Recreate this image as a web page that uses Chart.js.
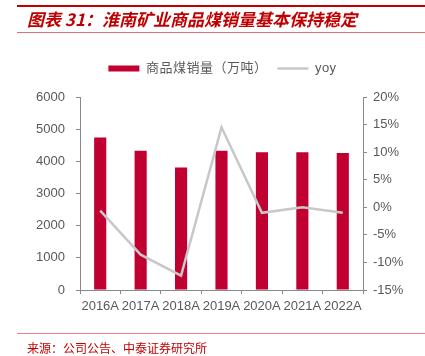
<!DOCTYPE html>
<html>
<head>
<meta charset="utf-8">
<script src="https://cdn.jsdelivr.net/npm/chart.js@4"></script>
<style>
  html,body{margin:0;padding:0;background:#fff;}
  #wrap{position:relative;width:425px;height:356px;overflow:hidden;}
  #c{position:absolute;left:0;top:0;}
  .topline{position:absolute;left:17px;right:0;top:5px;height:2px;background:#C00000;}
  .titleline{position:absolute;left:17px;right:0;top:32px;height:1px;background:#E07070;}
  .title{position:absolute;left:27px;top:9px;font-family:"Noto Sans CJK SC","Liberation Sans",sans-serif;font-weight:bold;font-style:italic;font-size:17px;color:#C00000;white-space:nowrap;line-height:20px;}
  .srcline{position:absolute;left:17px;right:0;top:333px;height:1px;background:#F08080;}
  .src{position:absolute;left:27px;top:340px;font-family:"Noto Sans CJK SC",sans-serif;font-size:12px;color:#C00000;white-space:nowrap;line-height:16px;}
</style>
</head>
<body>
<div id="wrap">
  <canvas id="c" width="425" height="356"></canvas>
  <div class="topline"></div>
  <div class="title">图表 31：淮南矿业商品煤销量基本保持稳定</div>
  <div class="titleline"></div>
  <div class="srcline"></div>
  <div class="src">来源：公司公告、中泰证券研究所</div>
</div>
<script>
const categories = ['2016A','2017A','2018A','2019A','2020A','2021A','2022A'];
const salesVolume = [4740, 4330, 3810, 4330, 4280, 4280, 4260];
const yoyPct = [-0.6, -8.6, -12.4, 14.5, -1.0, 0.0, -1.0];
const leftTicks = [0, 1000, 2000, 3000, 4000, 5000, 6000];
const rightTicks = [-15, -10, -5, 0, 5, 10, 15, 20];
const seriesNames = ['商品煤销量（万吨）', 'yoy'];

const textColor = '#595959';
const axisColor = '#898989';
const barColor = '#C00030';
const lineColor = '#C8C8C8';
const font = {family: '"Liberation Sans", Arial, sans-serif', size: 13};

const chart = new Chart(document.getElementById('c'), {
  data: {
    labels: categories,
    datasets: [
      {
        type: 'line',
        label: seriesNames[1],
        data: yoyPct,
        yAxisID: 'y2',
        borderColor: lineColor,
        backgroundColor: lineColor,
        borderWidth: 2.5,
        pointRadius: 0,
        tension: 0,
        order: 0
      },
      {
        type: 'bar',
        label: seriesNames[0],
        data: salesVolume,
        yAxisID: 'y',
        backgroundColor: barColor,
        borderWidth: 0,
        categoryPercentage: 0.3,
        barPercentage: 1,
        order: 1
      }
    ]
  },
  options: {
    responsive: false,
    animation: false,
    layout: {padding: {top: 52, left: 20, right: 0, bottom: 0}},
    plugins: {
      tooltip: {enabled: false},
      legend: {
        position: 'top',
        reverse: true,
        labels: {
          usePointStyle: true,
          pointStyleWidth: 31,
          boxHeight: 6,
          padding: 10,
          color: textColor,
          font: {family: '"Liberation Sans","Noto Sans CJK SC", sans-serif', size: 13},
          generateLabels(chart) {
            const items = Chart.defaults.plugins.legend.labels.generateLabels(chart);
            items.forEach(it => {
              if (it.text === seriesNames[1]) {
                it.pointStyle = 'line';
                it.lineWidth = 2.5;
                it.strokeStyle = lineColor;
              } else {
                it.pointStyle = 'rect';
                it.lineWidth = 0;
                it.fillStyle = barColor;
              }
            });
            return items;
          }
        }
      }
    },
    scales: {
      x: {
        offset: true,
        grid: {display: true, offset: true, drawOnChartArea: false, drawTicks: true, tickLength: 4, color: axisColor},
        border: {display: true, color: axisColor, width: 1},
        ticks: {color: textColor, font: font, padding: 5, maxRotation: 0, autoSkip: false},
        afterFit(s) { s.height = 66; }
      },
      y: {
        position: 'left',
        min: leftTicks[0],
        max: leftTicks[leftTicks.length - 1],
        afterBuildTicks(s) { s.ticks = leftTicks.map(v => ({value: v})); },
        grid: {display: true, drawOnChartArea: false, drawTicks: true, tickLength: 4, color: axisColor},
        border: {display: true, color: axisColor, width: 1},
        ticks: {color: textColor, font: font, padding: 11, callback: v => String(v)},
        afterFit(s) { s.width = 60; }
      },
      y2: {
        position: 'right',
        min: rightTicks[0],
        max: rightTicks[rightTicks.length - 1],
        afterBuildTicks(s) { s.ticks = rightTicks.map(v => ({value: v})); },
        grid: {display: true, drawOnChartArea: false, drawTicks: true, tickLength: 4, color: axisColor},
        border: {display: true, color: axisColor, width: 1},
        ticks: {color: textColor, font: font, padding: 6, callback: v => v + '%'},
        afterFit(s) { s.width = 62; }
      }
    }
  }
});

// widen the legend's box so the plot starts lower, and space the legend text slightly
const lg = chart.legend;
if (lg) {
  const origFit = lg.fit;
  const origDraw = lg.draw;
  lg.fit = function () {
    this.ctx.save();
    this.ctx.letterSpacing = '0.5px';
    origFit.apply(this, arguments);
    this.ctx.restore();
    this.height += 12;
  };
  lg.draw = function () {
    this.ctx.save();
    this.ctx.letterSpacing = '0.5px';
    origDraw.apply(this, arguments);
    this.ctx.restore();
  };
  chart.update();
}
</script>
</body>
</html>
